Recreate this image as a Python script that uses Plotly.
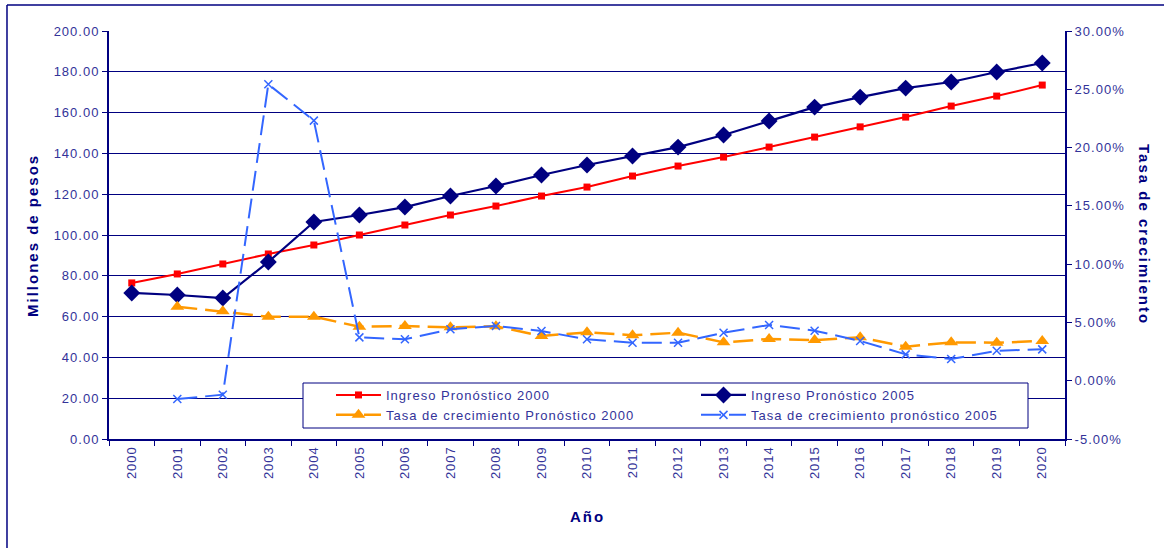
import plotly.graph_objects as go

years = [str(y) for y in range(2000, 2021)]

ingreso_2000 = [76.5, 80.9, 85.8, 90.7, 95.1, 100.0, 104.9, 109.8, 114.2, 119.1, 123.5,
                128.9, 133.8, 138.2, 143.1, 148.0, 153.0, 157.8, 163.2, 168.1, 173.5]
ingreso_2005 = [71.6, 70.6, 69.1, 86.8, 106.4, 109.8, 113.7, 119.1, 124.0, 129.4, 134.3,
                138.7, 143.1, 149.0, 155.9, 162.7, 167.6, 172.0, 175.0, 179.9, 184.3]
tasa_2000 = [None, 6.35, 5.95, 5.49, 5.49, 4.63, 4.69, 4.58, 4.67, 3.84, 4.15,
             3.90, 4.12, 3.29, 3.58, 3.49, 3.72, 2.92, 3.29, 3.26, 3.41]
tasa_2005 = [None, -1.57, -1.20, 25.43, 22.31, 3.72, 3.55, 4.41, 4.69, 4.26, 3.55,
             3.26, 3.26, 4.12, 4.78, 4.29, 3.41, 2.26, 1.86, 2.57, 2.69]

left_ticks = [0, 20, 40, 60, 80, 100, 120, 140, 160, 180, 200]
left_tick_labels = ["0.00", "20.00", "40.00", "60.00", "80.00", "100.00", "120.00",
                    "140.00", "160.00", "180.00", "200.00"]
right_ticks = [-5, 0, 5, 10, 15, 20, 25, 30]
right_tick_labels = ["-5.00%", "0.00%", "5.00%", "10.00%", "15.00%", "20.00%",
                     "25.00%", "30.00%"]

NAVY = "#000080"
TXT = "#333399"
FONT = "Liberation Sans, Arial, sans-serif"

fig = go.Figure()
fig.add_trace(go.Scatter(x=years, y=ingreso_2000, name="Ingreso Pronóstico 2000",
                         mode="lines+markers", line=dict(color="#FF0000", width=2),
                         marker=dict(symbol="square", size=7, color="#FF0000")))
fig.add_trace(go.Scatter(x=years, y=ingreso_2005, name="Ingreso Pronóstico 2005",
                         mode="lines+markers", line=dict(color=NAVY, width=2.2),
                         marker=dict(symbol="diamond", size=13, color=NAVY)))
fig.add_trace(go.Scatter(x=years, y=tasa_2000, name="Tasa de crecimiento Pronóstico 2000",
                         mode="lines+markers", yaxis="y2",
                         line=dict(color="#FF9900", width=2.5, dash="20px,8px"),
                         marker=dict(symbol="triangle-up", size=12, color="#FF9900")))
fig.add_trace(go.Scatter(x=years, y=tasa_2005, name="Tasa de crecimiento pronóstico 2005",
                         mode="lines+markers", yaxis="y2",
                         line=dict(color="#3366FF", width=2, dash="20px,8px"),
                         marker=dict(symbol="x-thin-open", size=8,
                                     line=dict(color="#3366FF", width=1.5), color="#3366FF")))

fig.update_layout(
    width=1164, height=548,
    margin=dict(l=109, r=99, t=31, b=109),
    paper_bgcolor="white", plot_bgcolor="white",
    font=dict(family=FONT, size=13, color=TXT),
    showlegend=True,
    legend=dict(orientation="h", x=(331 - 109) / 956, y=(439 - 380) / 408,
                xanchor="left", yanchor="top",
                entrywidth=305, entrywidthmode="pixels", itemwidth=45,
                borderwidth=0, bgcolor="rgba(0,0,0,0)",
                font=dict(family=FONT, size=13, color=TXT)),
    xaxis=dict(type="category", range=[-0.5, 20.5], tickangle=-90, showgrid=False,
               showline=True, linecolor=NAVY, linewidth=2, ticks="outside", ticklen=5,
               tickcolor=NAVY, tickson="boundaries", tickfont=dict(size=13, color=TXT)),
    yaxis=dict(range=[0, 200], tickvals=left_ticks, ticktext=left_tick_labels,
               showgrid=True, gridcolor=NAVY, gridwidth=1, showline=True,
               linecolor=NAVY, linewidth=2, ticks="outside", ticklen=5, tickcolor=NAVY,
               tickfont=dict(size=13, color=TXT), zeroline=False),
    yaxis2=dict(range=[-5, 30], tickvals=right_ticks, ticktext=right_tick_labels,
                overlaying="y", side="right", showgrid=False, showline=True,
                linecolor=NAVY, linewidth=2, ticks="outside", ticklen=5, tickcolor=NAVY,
                tickfont=dict(size=13, color=TXT), zeroline=False),
    annotations=[
        dict(text="<b>Millones de pesos</b>", xref="paper", yref="paper",
             x=(32 - 109) / 956, y=(439 - 236) / 408, xanchor="center", yanchor="middle",
             textangle=-90, showarrow=False, font=dict(size=15, color=NAVY, family=FONT)),
        dict(text="<b>Tasa de crecimiento</b>", xref="paper", yref="paper",
             x=(1145 - 109) / 956, y=(439 - 234) / 408, xanchor="center", yanchor="middle",
             textangle=90, showarrow=False, font=dict(size=15, color=NAVY, family=FONT)),
        dict(text="<b>Año</b>", xref="paper", yref="paper", x=(587 - 109) / 956,
             y=(439 - 516) / 408, xanchor="center", yanchor="middle",
             showarrow=False, font=dict(size=15, color=NAVY, family=FONT)),
    ],
    shapes=[
        dict(type="rect", xref="paper", yref="paper", layer="above",
             x0=(303 - 109) / 956, x1=(1028 - 109) / 956,
             y0=(439 - 428) / 408, y1=(439 - 383) / 408,
             fillcolor="white", line=dict(color=NAVY, width=1)),
        dict(type="line", xref="paper", yref="paper", x0=-0.1067, x1=-0.1067, y0=-0.4, y1=1.0637,
             line=dict(color=NAVY, width=1.5)),
        dict(type="line", xref="paper", yref="paper", x0=-0.1067, x1=1.2, y0=1.0637, y1=1.0637,
             line=dict(color=NAVY, width=1.5)),
    ],
)

post = """
document.body.style.margin = '0';
var gd = document.getElementById('{plot_id}');
gd.querySelectorAll('text').forEach(function(t){ t.style.letterSpacing = '1px'; });
gd.querySelectorAll('.annotation text').forEach(function(t){ t.style.letterSpacing = '2px'; });
"""

fig.write_html("out.html", post_script=post, config={"displayModeBar": False})
